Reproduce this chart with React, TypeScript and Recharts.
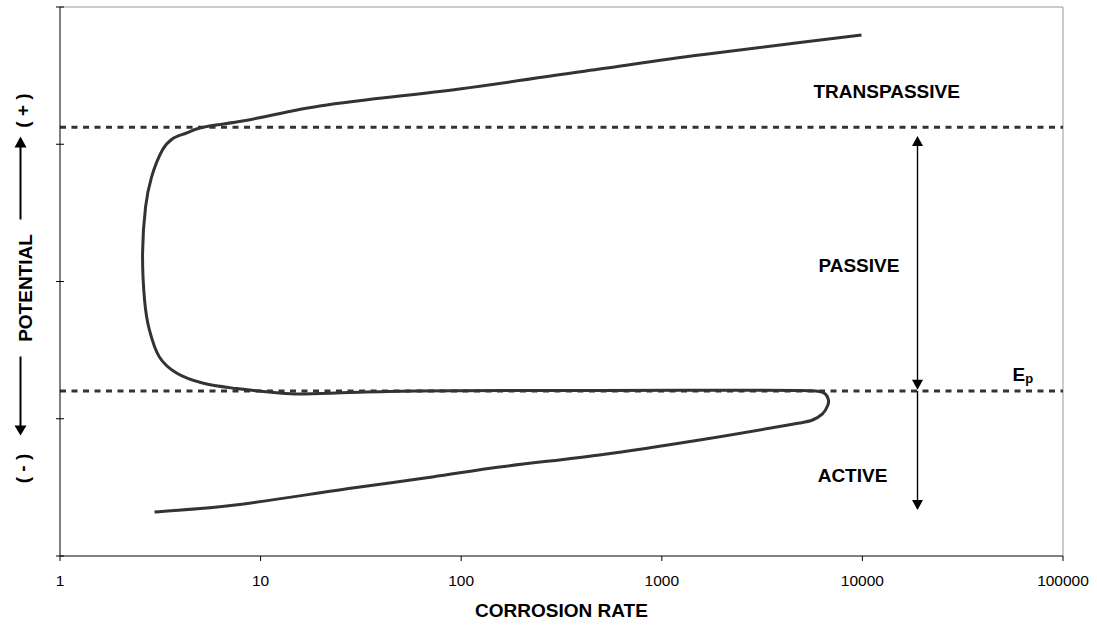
import React from 'react';
import {
  ComposedChart,
  Line,
  XAxis,
  YAxis,
  ReferenceLine,
  ReferenceDot,
  Label,
} from 'recharts';

// ---- data ----
const corrosionRate = [
  2.96, 6.76, 28.7, 71.9, 155, 489, 1542, 4856, 5640, 6324, 6699, 6776, 6546, 6109,
  4856, 489, 59.9, 27.7, 15.6, 12.4, 7.58, 5.13, 3.81, 3.13, 2.79, 2.64, 2.58, 2.67,
  2.86, 3.24, 3.64, 4.27, 4.79, 5.56, 8.12, 19.7, 98, 489, 1542, 9897,
];
const potential = [
  0.321, 0.364, 0.495, 0.576, 0.648, 0.736, 0.845, 0.969, 0.991, 1.035, 1.093, 1.137,
  1.18, 1.199, 1.206, 1.206, 1.202, 1.191, 1.18, 1.188, 1.22, 1.26, 1.333, 1.45, 1.647,
  1.865, 2.208, 2.543, 2.761, 2.958, 3.04, 3.082, 3.111, 3.133, 3.169, 3.279, 3.403,
  3.548, 3.65, 3.796,
];
const rateTicks = [1, 10, 100, 1000, 10000, 100000];
const potentialTicks = [0, 1, 2, 3, 4];
const boundaryLevels = [3.124, 1.202]; // transpassive / passivation potential (Ep)
const regionNames = ['TRANSPASSIVE', 'PASSIVE', 'ACTIVE'];

const curveData = corrosionRate.map((x, i) => ({ x, y: potential[i] }));

// ---- annotation anchors (data coordinates) ----
const regionLabelX = [13213, 9607, 8926];
const regionLabelY = [3.335, 2.071, 0.539];
const arrowRate = 18824;
const epLabel = { x: 55980, y: 1.275 };

const FONT = '"Liberation Sans", Arial, Helvetica, sans-serif';
const INK = '#333333';

// smooth curve through all points (tangent scaled by chord length, no overshoot)
function smoothCurve(context: any) {
  let pts: number[][] = [];
  return {
    areaStart() {},
    areaEnd() {},
    lineStart() {
      pts = [];
    },
    point(x: number, y: number) {
      pts.push([+x, +y]);
    },
    lineEnd() {
      const n = pts.length;
      if (!n) return;
      context.moveTo(pts[0][0], pts[0][1]);
      if (n === 1) return;
      const tan = (i: number) => {
        const a = pts[Math.max(0, i - 1)];
        const b = pts[Math.min(n - 1, i + 1)];
        const dx = b[0] - a[0];
        const dy = b[1] - a[1];
        const l = Math.hypot(dx, dy) || 1;
        return [dx / l, dy / l];
      };
      for (let i = 0; i < n - 1; i++) {
        const p = pts[i];
        const q = pts[i + 1];
        const d = Math.hypot(q[0] - p[0], q[1] - p[1]) / 3;
        const t0 = tan(i);
        const t1 = tan(i + 1);
        context.bezierCurveTo(
          p[0] + t0[0] * d,
          p[1] + t0[1] * d,
          q[0] - t1[0] * d,
          q[1] - t1[1] * d,
          q[0],
          q[1]
        );
      }
    },
  };
}

const head = (x: number, tipY: number, dir: number, w = 5.5, h = 10) =>
  `${x},${tipY} ${x - w},${tipY - dir * h} ${x + w},${tipY - dir * h}`;

const DoubleArrow = (p: any) => {
  const { x1, y1, x2, y2 } = p;
  const top = Math.min(y1, y2);
  const bot = Math.max(y1, y2);
  return (
    <g>
      <line x1={x1} x2={x2} y1={top + 8} y2={bot - 8} stroke="#000" strokeWidth={1.4} />
      <polygon points={head(x1, top, -1)} fill="#000" />
      <polygon points={head(x1, bot, 1)} fill="#000" />
    </g>
  );
};

const DownArrow = (p: any) => {
  const { x1, y1, x2, y2 } = p;
  const top = Math.min(y1, y2);
  const bot = Math.max(y1, y2);
  return (
    <g>
      <line x1={x1} x2={x2} y1={top} y2={bot - 8} stroke="#000" strokeWidth={1.4} />
      <polygon points={head(x1, bot, 1)} fill="#000" />
    </g>
  );
};

const CrossTick = (p: any) => {
  const { x, y } = p;
  return <line x1={x - 4} x2={x + 4} y1={y} y2={y} stroke="#000" strokeWidth={1} />;
};

const regionText = (text: string) => (p: any) => (
  <text
    x={p.cx}
    y={p.cy}
    textAnchor="middle"
    fontFamily={FONT}
    fontWeight="bold"
    fontSize={19}
    fill="#000"
  >
    {text}
  </text>
);

const EpText = (p: any) => (
  <text x={p.cx} y={p.cy} fontFamily={FONT} fontWeight="bold" fontSize={19} fill="#000">
    E
    <tspan fontSize={13} dy={2}>
      p
    </tspan>
  </text>
);

const PotentialLabel = (props: any) => {
  const vb = props.viewBox || { x: 0, y: 7, width: 60, height: 549 };
  const cy = vb.y + vb.height / 2;
  const ax = 20.5;
  const bx = 31.5;
  return (
    <g fontFamily={FONT} fontWeight="bold" fontSize={19} fill="#000">
      <text x={bx} y={cy + 6.5} textAnchor="middle" transform={`rotate(-90 ${bx} ${cy + 6.5})`}>
        POTENTIAL
      </text>
      <text x={29} y={cy - 171} textAnchor="middle" transform={`rotate(-90 29 ${cy - 171})`}>
        ( + )
      </text>
      <text x={29} y={cy + 187} textAnchor="middle" transform={`rotate(-90 29 ${cy + 187})`}>
        ( - )
      </text>
      <line x1={ax} x2={ax} y1={cy - 136} y2={cy - 62} stroke="#000" strokeWidth={2} />
      <polygon points={head(ax, cy - 145, -1, 6, 11)} fill="#000" />
      <line x1={ax} x2={ax} y1={cy + 75} y2={cy + 146} stroke="#000" strokeWidth={2} />
      <polygon points={head(ax, cy + 154, 1, 6, 10)} fill="#000" />
    </g>
  );
};

const CorrosionLabel = (props: any) => {
  const vb = props.viewBox || { x: 60, y: 556, width: 1003, height: 61 };
  const cx = vb.x + vb.width / 2;
  return (
    <text
      x={cx}
      y={vb.y + 61}
      textAnchor="middle"
      fontFamily={FONT}
      fontWeight="bold"
      fontSize={19}
      fill="#000"
    >
      CORROSION RATE
    </text>
  );
};

export default function App() {
  return (
    <div style={{ position: 'absolute', left: 0, top: 0, background: '#fff' }}>
      <ComposedChart
        width={1097}
        height={626}
        data={curveData}
        margin={{ top: 7, right: 34, bottom: 9, left: 0 }}
      >
        <XAxis
          dataKey="x"
          type="number"
          scale="log"
          domain={[1, 100000]}
          ticks={rateTicks}
          interval={0}
          allowDataOverflow
          height={61}
          tickSize={5}
          tickMargin={14}
          stroke="#000"
          tick={{ fill: '#000', fontSize: 15.5, fontFamily: FONT }}
        >
          <Label content={CorrosionLabel} />
        </XAxis>
        <YAxis
          type="number"
          domain={[0, 4]}
          ticks={potentialTicks}
          interval={0}
          width={60}
          tickLine={false}
          tickSize={0}
          tickMargin={0}
          stroke="#000"
          tick={CrossTick}
        >
          <Label content={PotentialLabel} />
        </YAxis>

        <ReferenceLine y={4} stroke="#999" strokeWidth={1} />
        <ReferenceLine x={100000} stroke="#999" strokeWidth={1} />

        {boundaryLevels.map((lv) => (
          <ReferenceLine
            key={lv}
            y={lv}
            stroke={INK}
            strokeWidth={3}
            strokeDasharray="6 5.5"
          />
        ))}

        <Line
          dataKey="y"
          type={smoothCurve as any}
          stroke={INK}
          strokeWidth={3}
          dot={false}
          activeDot={false}
          isAnimationActive={false}
        />

        <ReferenceLine
          segment={[
            { x: arrowRate, y: 3.06 },
            { x: arrowRate, y: 1.212 },
          ]}
          shape={DoubleArrow}
        />
        <ReferenceLine
          segment={[
            { x: arrowRate, y: 1.202 },
            { x: arrowRate, y: 0.335 },
          ]}
          shape={DownArrow}
        />

        {regionNames.map((name, i) => (
          <ReferenceDot
            key={name}
            x={regionLabelX[i]}
            y={regionLabelY[i]}
            r={0}
            shape={regionText(name)}
          />
        ))}
        <ReferenceDot x={epLabel.x} y={epLabel.y} r={0} shape={EpText} />
      </ComposedChart>
    </div>
  );
}
